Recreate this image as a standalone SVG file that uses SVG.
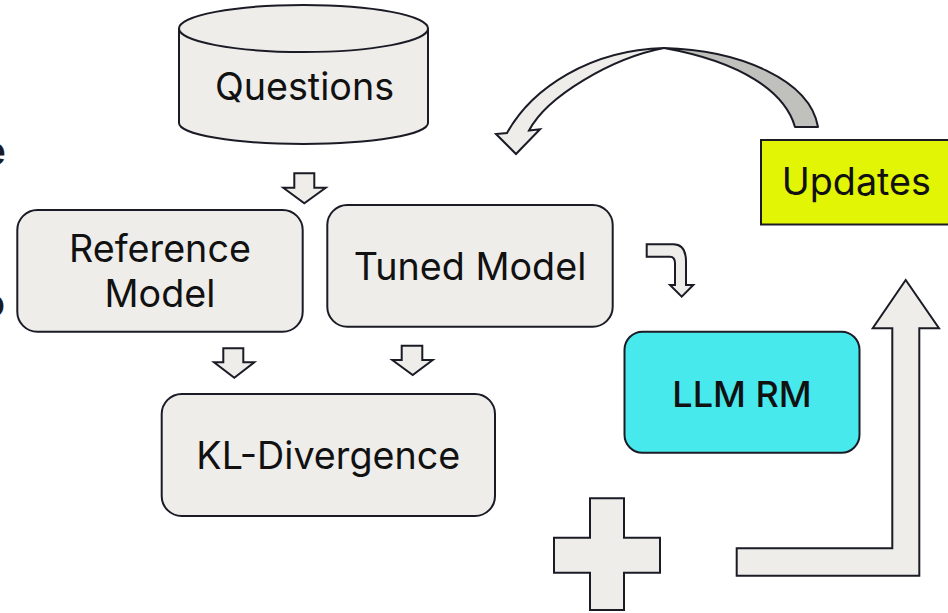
<svg xmlns="http://www.w3.org/2000/svg" width="948" height="613" viewBox="0 0 948 613">
  <style>
    .box { fill: #eeedea; stroke: #1b1b26; stroke-width: 2; }
    .shape { fill: #eeedea; stroke: #1b1b26; stroke-width: 2; stroke-linejoin: miter; }
    .lbl { font-family: Inter, "Liberation Sans", sans-serif; font-size: 37.7px; fill: #111111; text-anchor: middle; }
    .edge { font-family: Inter, "Liberation Sans", sans-serif; font-size: 40px; font-weight: 600; fill: #1b1b26; text-anchor: end; }
  </style>

  <!-- clipped words at the left margin -->
  <text class="edge" x="6" y="165">e</text>
  <text class="edge" x="5" y="317">o</text>

  <!-- connectors: block arrows and the plus sign -->
  <g id="connectors">
    <!-- Questions -> models -->
    <polygon class="shape" points="294.3,173.3 314.3,173.3 314.3,187.7 325.7,187.7 304.3,203.3 283.3,187.7 294.3,187.7"/>
    <!-- Reference Model -> KL -->
    <polygon class="shape" points="223.3,348.3 243.3,348.3 243.3,362.3 254.3,362.3 234.3,377.7 214,362.3 223.3,362.3"/>
    <!-- Tuned Model -> KL -->
    <polygon class="shape" points="401.7,345.7 422.3,345.7 422.3,360 432.7,360 412.7,375 392.3,360 401.7,360"/>
    <!-- Tuned Model -> LLM RM (bent arrow) -->
    <path class="shape" d="M646.7,244.3 L673.3,244.3 Q686,244.3 686,261.7 L686,285 L693.3,285 L681.7,296.7 L670,285 L675,285 L675,263.3 Q675,256.7 670,256.7 L646.7,256.7 Z"/>
    <!-- plus sign -->
    <polygon class="shape" points="590,498.3 624,498.3 624,537.7 660,537.7 660,572.7 624,572.7 624,610 590,610 590,572.7 554,572.7 554,537.7 590,537.7"/>
    <!-- L-shaped arrow up to Updates -->
    <polygon class="shape" points="736.7,548.3 892.3,548.3 892.3,328.3 872.7,328.3 905.7,280 939,328.3 919.3,328.3 919.3,575.7 736.7,575.7"/>
    <!-- curved arrow from Updates back to Questions: back face, then front face -->
    <path fill="#c0c0bc" stroke="#1b1b26" stroke-width="2" stroke-linejoin="round" d="M664,48 C740,50 810,80 818,127 L795,127 C785,92 742,62 664,48 Z"/>
    <path class="shape" stroke-linejoin="round" d="M507,133 C532,88 590,50 664,48 C612,58 547,96 529,130.5 L540,129.3 L516,154 L496,134 Z"/>
  </g>

  <g id="questions">
    <path class="box" d="M179,28.5 L179,123 A124.5,21 0 0 0 428,123 L428,28.5"/>
    <ellipse class="box" cx="303.5" cy="28.5" rx="124.5" ry="23.5"/>
    <text class="lbl" x="304.5" y="100">Questions</text>
  </g>

  <g id="reference-model">
    <rect class="box" x="17.3" y="210" width="285.4" height="121.7" rx="20"/>
    <text class="lbl" x="160" y="261.7">Reference</text>
    <text class="lbl" x="160" y="306.7">Model</text>
  </g>

  <g id="tuned-model">
    <rect class="box" x="327.3" y="205" width="285.4" height="121.7" rx="20"/>
    <text class="lbl" x="470" y="280">Tuned Model</text>
  </g>

  <g id="kl-divergence">
    <rect class="box" x="161.7" y="394" width="333.3" height="122" rx="20"/>
    <text class="lbl" x="328.3" y="469.3">KL-Divergence</text>
  </g>

  <g id="llm-rm">
    <rect x="624.5" y="331.7" width="235" height="121" rx="18" fill="#48e9ec" stroke="#1b1b26" stroke-width="2"/>
    <text class="lbl" x="742" y="406.7" font-weight="500" style="font-size:36px">LLM RM</text>
  </g>

  <g id="updates">
    <rect x="761" y="140" width="200" height="84.5" fill="#e2f505" stroke="#1b1b26" stroke-width="2"/>
    <text class="lbl" x="856.3" y="195">Updates</text>
  </g>
</svg>
